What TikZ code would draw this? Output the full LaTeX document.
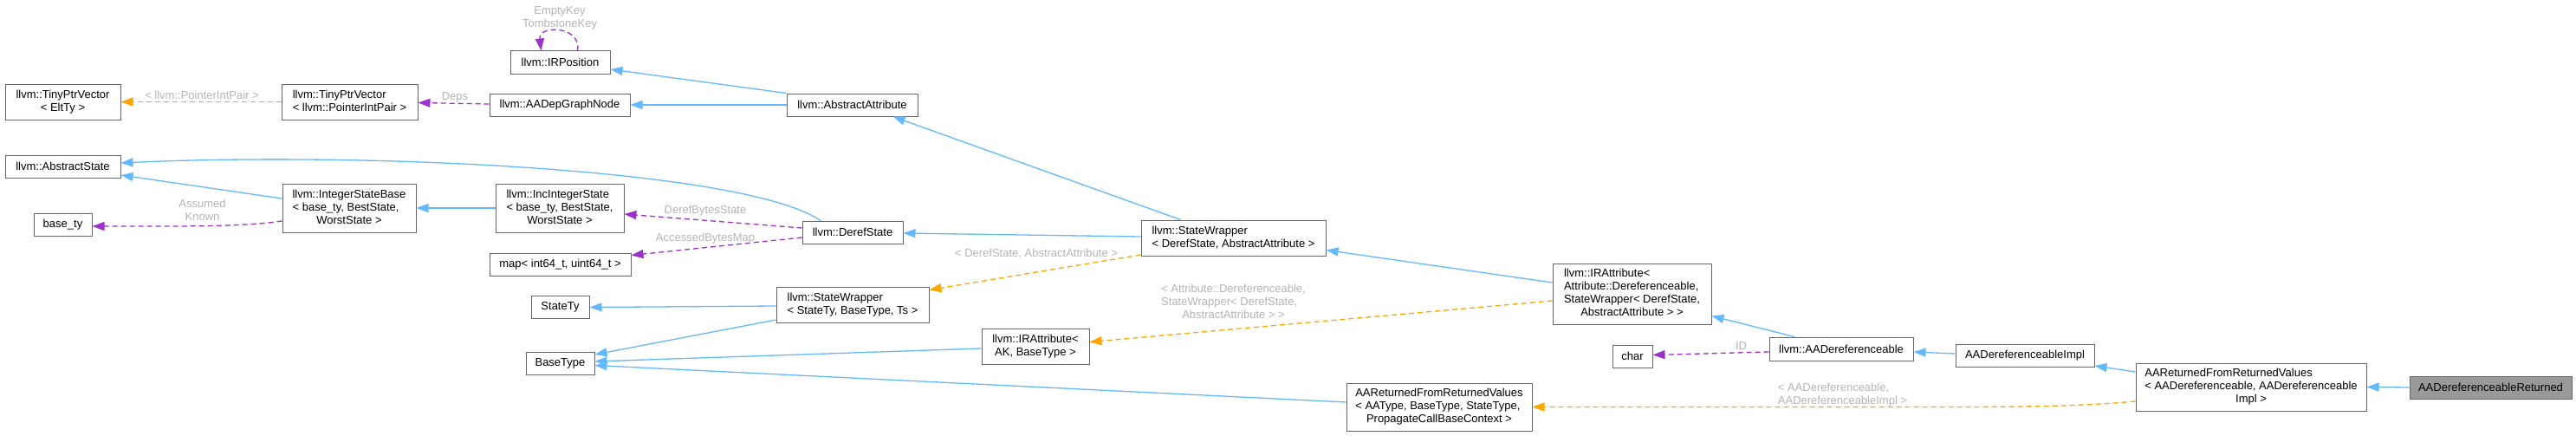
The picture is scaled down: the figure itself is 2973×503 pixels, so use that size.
\documentclass[tikz,border=0pt]{standalone}
\usepackage{fontspec}
\setmainfont{Liberation Sans}
\usetikzlibrary{calc,arrows.meta}
\definecolor{inhc}{HTML}{63B8FF}
\definecolor{usec}{HTML}{9A32CD}
\definecolor{tplc}{HTML}{FFA500}
\definecolor{boxc}{HTML}{666666}
\definecolor{lblc}{HTML}{B4B4B4}
\definecolor{hlc}{HTML}{999999}
\newcommand{\mlin}[2]{\begin{tabular}{@{}l@{}}#1\\\multicolumn{1}{@{}c@{}}{#2}\end{tabular}}
\newcommand{\mcen}[2]{\begin{tabular}{@{}c@{}}#1\\#2\end{tabular}}
\tikzset{
  cls/.style={draw=boxc, line width=1pt, fill=white, inner sep=0pt, font=\fontsize{13}{15}\selectfont},
  tipa/.style={-{Triangle[length=14pt,width=10pt]}},
  inhe/.style={draw=inhc, line width=1.3pt, tipa},
  usee/.style={draw=usec, line width=1.3pt, dash pattern=on 6pt off 4pt, tipa},
  tple/.style={draw=tplc, line width=1.3pt, dash pattern=on 6pt off 4pt, tipa},
  elab/.style={text=lblc, font=\fontsize{13}{15}\selectfont, inner sep=0pt}
}
\begin{document}
\begin{tikzpicture}[x=1pt,y=-1pt]
\useasboundingbox (0,0) rectangle (2973,503);
% nodes
\node[cls, minimum width=115pt, minimum height=26pt] (irpos) at (646.5,72) {llvm::IRPosition};
\node[cls, minimum width=133pt, minimum height=41pt] (tpvE) at (72.5,117.5) {\mlin{llvm::TinyPtrVector}{< EltTy >}};
\node[cls, minimum width=157pt, minimum height=41pt] (tpvP) at (403.5,117.5) {\mlin{llvm::TinyPtrVector}{< llvm::PointerIntPair >}};
\node[cls, minimum width=162pt, minimum height=26pt] (depg) at (646,121) {llvm::AADepGraphNode};
\node[cls, minimum width=151pt, minimum height=26pt] (absattr) at (983.5,121) {llvm::AbstractAttribute};
\node[cls, minimum width=133pt, minimum height=26pt] (absstate) at (72.5,192) {llvm::AbstractState};
\node[cls, minimum width=154pt, minimum height=56pt] (isb) at (403,240) {\mlin{llvm::IntegerStateBase\\< base\_ty, BestState,}{WorstState >}};
\node[cls, minimum width=67pt, minimum height=26pt] (basety) at (72.5,259) {base\_ty};
\node[cls, minimum width=148pt, minimum height=56pt] (iis) at (646,240) {\mlin{llvm::IncIntegerState\\< base\_ty, BestState,}{WorstState >}};
\node[cls, minimum width=116pt, minimum height=26pt] (deref) at (984,268) {llvm::DerefState};
\node[cls, minimum width=163pt, minimum height=26pt] (map) at (646.5,305.5) {map< int64\_t, uint64\_t >};
\node[cls, minimum width=67pt, minimum height=26pt] (statety) at (646.5,354.5) {StateTy};
\node[cls, minimum width=176pt, minimum height=41pt] (swST) at (984,351.5) {\mlin{llvm::StateWrapper}{< StateTy, BaseType, Ts >}};
\node[cls, minimum width=79pt, minimum height=26pt] (basetype) at (646.5,419) {BaseType};
\node[cls, minimum width=213pt, minimum height=41pt] (swDA) at (1423.5,274.5) {\mlin{llvm::StateWrapper}{< DerefState, AbstractAttribute >}};
\node[cls, minimum width=183pt, minimum height=70pt] (irattrD) at (1883.5,339) {\mlin{llvm::IRAttribute<\\Attribute::Dereferenceable,\\StateWrapper< DerefState,}{AbstractAttribute > >}};
\node[cls, minimum width=124pt, minimum height=41pt] (irattrAK) at (1195,399.5) {\mlin{llvm::IRAttribute<}{AK, BaseType >}};
\node[cls, minimum width=46pt, minimum height=26pt] (char) at (1884,411) {char};
\node[cls, minimum width=214pt, minimum height=55pt] (aarfrvT) at (1661,469.5) {\mlin{AAReturnedFromReturnedValues\\< AAType, BaseType, StateType,}{PropagateCallBaseContext >}};
\node[cls, minimum width=166pt, minimum height=27pt] (aaderef) at (2125,402.5) {llvm::AADereferenceable};
\node[cls, minimum width=160pt, minimum height=26pt] (aaderefimpl) at (2337,410) {AADereferenceableImpl};
\node[cls, minimum width=266pt, minimum height=55pt] (aarfrvD) at (2598,446.5) {\mlin{AAReturnedFromReturnedValues\\< AADereferenceable, AADereferenceable}{Impl >}};
\node[cls, fill=hlc, minimum width=187pt, minimum height=26pt] (aaderefret) at (2874.5,447) {AADereferenceableReturned};
% edges
\draw[inhe] (absattr.north west) -- ($(irpos.east)+(0,8)$);
\draw[inhe] (absattr.west) -- (depg.east);
\draw[usee] ($(depg.west)+(0,-1)$) -- ($(tpvP.east)+(0,1)$);
\node[elab] (lDeps) at (525,112) {Deps};
\draw[tple] (tpvP.west) -- (tpvE.east);
\node[elab] (lPIP) at (233,110) {< llvm::PointerIntPair >};
\draw[usee] ($(irpos.north)+(20,0)$) .. controls (672,30) and (621,28) .. ($(irpos.north)+(-22,0)$);
\node[elab] (lEK) at (646,21) {\mcen{EmptyKey}{TombstoneKey}};
\draw[inhe] ($(swDA.north)+(-61,0)$) -- ($(absattr.south)+(47,0)$);
\draw[inhe] ($(swDA.west)+(0,-1.5)$) -- ($(deref.east)+(0,1)$);
\draw[tple] ($(swDA.west)+(0,19.5)$) -- ($(swST.north east)+(0,4)$);
\node[elab] (lDA) at (1196,293) {< DerefState, AbstractAttribute >};
\draw[inhe] ($(deref.north)+(-37,0)$) .. controls (860,195) and (420,175) .. ($(absstate.east)+(0,-4)$);
\draw[inhe] ($(isb.west)+(0,-11)$) -- ($(absstate.east)+(0,10)$);
\draw[usee] ($(isb.west)+(0,15)$) .. controls (280,262) and (200,261) .. ($(basety.east)+(0,2)$);
\node[elab] (lAK) at (233.5,243.5) {\mcen{Assumed}{Known}};
\draw[inhe] (iis.west) -- (isb.east);
\draw[usee] ($(deref.west)+(0,-5)$) -- ($(iis.east)+(0,7)$);
\node[elab] (lDBS) at (814,243) {DerefBytesState};
\draw[usee] ($(deref.west)+(0,6)$) -- ($(map.east)+(0,-11)$);
\node[elab] (lABM) at (814,275) {AccessedBytesMap};
\draw[inhe] ($(swST.west)+(0,1.5)$) -- (statety.east);
\draw[inhe] ($(swST.west)+(0,17.5)$) -- ($(basetype.east)+(0,-10)$);
\draw[inhe] ($(irattrAK.west)+(0,2.5)$) -- ($(basetype.east)+(0,-2)$);
\draw[inhe] ($(aarfrvT.west)+(0,-5.5)$) -- ($(basetype.east)+(0,2.5)$);
\draw[inhe] ($(irattrD.west)+(0,-13)$) -- ($(swDA.east)+(0,14)$);
\draw[tple] ($(irattrD.west)+(0,8)$) -- ($(irattrAK.east)+(0,-5)$);
\node[elab] (lAD) at (1423.5,349) {\mlin{< Attribute::Dereferenceable,\\StateWrapper< DerefState,}{AbstractAttribute > >}};
\draw[inhe] ($(aaderef.north)+(-54,0)$) -- ($(irattrD.south east)+(0,-10)$);
\draw[usee] ($(aaderef.west)+(0,3.5)$) -- ($(char.east)+(0,-1.5)$);
\node[elab] (lID) at (2009.5,399) {ID};
\draw[inhe] ($(aaderefimpl.west)+(0,-2)$) -- ($(aaderef.east)+(0,3.5)$);
\draw[inhe] ($(aarfrvD.west)+(0,-17.5)$) -- ($(aaderefimpl.east)+(0,12)$);
\draw[tple] ($(aarfrvD.west)+(0,16.5)$) .. controls (2390,470) and (2300,469.5) .. (2200,469.5) -- (aarfrvT.east);
\node[elab] (lADI) at (2126.5,455.5) {\begin{tabular}{@{}l@{}}< AADereferenceable,\\AADereferenceableImpl >\end{tabular}};
\draw[inhe] (aaderefret.west) -- (aarfrvD.east);
\end{tikzpicture}
\end{document}
